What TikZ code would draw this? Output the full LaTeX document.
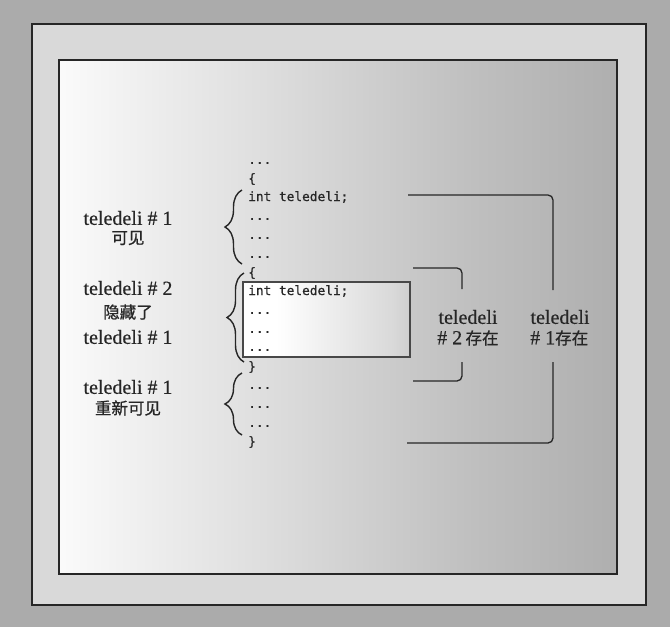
\documentclass[tikz,border=0pt]{standalone}
\usepackage{fontspec}
\setmainfont[FakeBold=0.35]{Liberation Serif}
\newfontfamily\codefont[FakeBold=0.6]{DejaVu Sans Mono}
\newfontfamily\cjk[FakeBold=0.9]{Noto Sans CJK SC}
\usetikzlibrary{decorations.pathreplacing}
\definecolor{bggray}{HTML}{ABABAB}
\definecolor{bandgray}{HTML}{D9D9D9}
\definecolor{linegray}{HTML}{262626}
\definecolor{boxline}{HTML}{484848}
\pgfdeclarehorizontalshading{innershade}{100bp}{color(0bp)=(white); color(22bp)=(white); color(45bp)=(black!14); color(62bp)=(black!25); color(80bp)=(black!34); color(100bp)=(black!46)}
\pgfdeclarehorizontalshading{boxshade}{100bp}{color(0bp)=(white); color(35bp)=(white); color(70bp)=(black!15); color(100bp)=(black!40)}
\tikzset{
  frameline/.style={draw=linegray, line width=2pt},
  codeline/.style={anchor=west, inner sep=0pt, font=\codefont\fontsize{12.8}{14}\selectfont, text=linegray},
  lbl/.style={anchor=center, inner sep=0pt, font=\fontsize{20}{20}\selectfont, text=linegray},
  cjklbl/.style={anchor=center, inner sep=0pt, font=\cjk\fontsize{16.5}{16.5}\selectfont, text=linegray},
  bracebar/.style={draw=linegray, line width=1.4pt, decorate, decoration={brace, amplitude=17pt}},
  bracket/.style={draw=linegray, line width=1.3pt, rounded corners=5pt}
}
\begin{document}
\begin{tikzpicture}[x=1pt,y=-1pt]
\useasboundingbox (0,0) rectangle (670,627);
\fill[bggray] (0,0) rectangle (670,627);
\draw[frameline, fill=bandgray] (32,24) rectangle (646,605);
\shade[shading=innershade] (59,60) rectangle (617,574);
\draw[frameline] (59,60) rectangle (617,574);
% inner code box
\shade[shading=boxshade] (243,282) rectangle (410,357);
\draw[draw=boxline, line width=2pt] (243,282) rectangle (410,357);
% code lines
\node[codeline] (c1) at (248,163) {...};
\node[codeline] (c2) at (248,179) {\{};
\node[codeline] (c3) at (248,197) {int teledeli;};
\node[codeline] (c4) at (248,219) {...};
\node[codeline] (c5) at (248,238) {...};
\node[codeline] (c6) at (248,257) {...};
\node[codeline] (c7) at (248,273) {\{};
\node[codeline] (c8) at (248,291) {int teledeli;};
\node[codeline] (c9) at (248,313) {...};
\node[codeline] (c10) at (248,332) {...};
\node[codeline] (c11) at (248,350) {...};
\node[codeline] (c12) at (248,367) {\}};
\node[codeline] (c13) at (248,388) {...};
\node[codeline] (c14) at (248,407) {...};
\node[codeline] (c15) at (248,426) {...};
\node[codeline] (c16) at (248,442) {\}};
% braces
\coordinate (b1s) at (242,264); \coordinate (b1e) at (242,190);
\coordinate (b2s) at (244,362); \coordinate (b2e) at (244,273);
\coordinate (b3s) at (242,435); \coordinate (b3e) at (242,373);
\draw[bracebar] (b1s) -- (b1e);
\draw[bracebar] (b2s) -- (b2e);
\draw[bracebar] (b3s) -- (b3e);
% left labels
\node[lbl] (l1a) at (128,218) {teledeli \# 1};
\node[cjklbl] (l1b) at (128,238) {可见};
\node[lbl] (l2a) at (128,288) {teledeli \# 2};
\node[cjklbl] (l2b) at (128,312) {隐藏了};
\node[lbl] (l2c) at (128,337) {teledeli \# 1};
\node[lbl] (l3a) at (128,387) {teledeli \# 1};
\node[cjklbl] (l3b) at (128,408) {重新可见};
% right labels
\node[lbl] (r2a) at (468,317) {teledeli};
\node[lbl, anchor=west] (r2b) at (437,338) {\# 2\,{\cjk\fontsize{16.5}{16.5}\selectfont 存在}};
\node[lbl] (r1a) at (560,317) {teledeli};
\node[lbl, anchor=west] (r1b) at (530,338) {\# 1{\cjk\fontsize{16.5}{16.5}\selectfont 存在}};
% brackets
\coordinate (o1) at (408,195); \coordinate (o2) at (553,195); \coordinate (o3) at (553,290);
\coordinate (o4) at (553,362); \coordinate (o5) at (553,443); \coordinate (o6) at (407,443);
\draw[bracket] (o1) -- (o2) -- (o3);
\draw[bracket] (o4) -- (o5) -- (o6);
\coordinate (i1) at (413,268); \coordinate (i2) at (462,268); \coordinate (i3) at (462,289);
\coordinate (i4) at (462,362); \coordinate (i5) at (462,381); \coordinate (i6) at (413,381);
\draw[bracket] (i1) -- (i2) -- (i3);
\draw[bracket] (i4) -- (i5) -- (i6);
\end{tikzpicture}
\end{document}
